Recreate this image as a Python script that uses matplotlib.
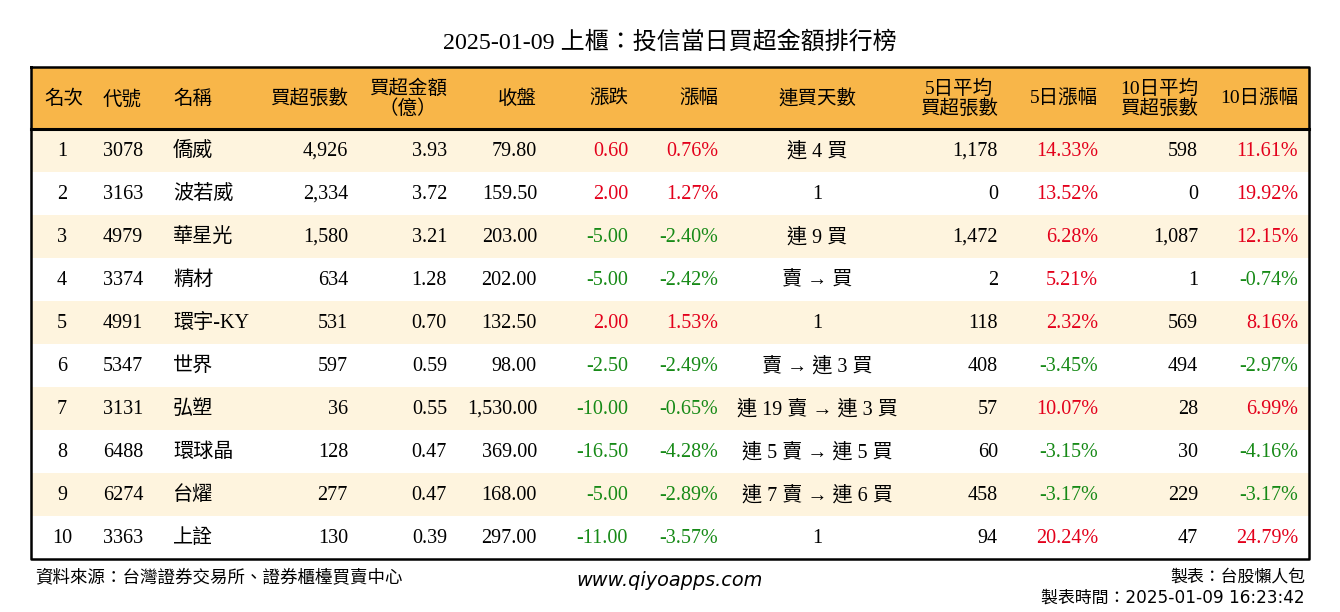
import matplotlib.pyplot as plt
import numpy as np

plt.rcParams['font.family'] = ['Liberation Serif', 'Noto Sans CJK TC', 'DejaVu Sans']

title = '2025-01-09 上櫃：投信當日買超金額排行榜'
headers = ['名次', '代號', '名稱', '買超張數', '買超金額\n（億）', '收盤', '漲跌', '漲幅',
           '連買天數', '5日平均\n買超張數', '5日漲幅', '10日平均\n買超張數', '10日漲幅']

ranks = [1, 2, 3, 4, 5, 6, 7, 8, 9, 10]
codes = ['3078', '3163', '4979', '3374', '4991', '5347', '3131', '6488', '6274', '3363']
names = ['僑威', '波若威', '華星光', '精材', '環宇-KY', '世界', '弘塑', '環球晶', '台燿', '上詮']
net_lots = [4926, 2334, 1580, 634, 531, 597, 36, 128, 277, 130]
net_amt = [3.93, 3.72, 3.21, 1.28, 0.70, 0.59, 0.55, 0.47, 0.47, 0.39]
close = [79.80, 159.50, 203.00, 202.00, 132.50, 98.00, 1530.00, 369.00, 168.00, 297.00]
change = [0.60, 2.00, -5.00, -5.00, 2.00, -2.50, -10.00, -16.50, -5.00, -11.00]
pct = [0.76, 1.27, -2.40, -2.42, 1.53, -2.49, -0.65, -4.28, -2.89, -3.57]
streak = ['連 4 買', '1', '連 9 買', '賣 → 買', '1', '賣 → 連 3 買', '連 19 賣 → 連 3 買',
          '連 5 賣 → 連 5 買', '連 7 賣 → 連 6 買', '1']
avg5 = [1178, 0, 1472, 2, 118, 408, 57, 60, 458, 94]
pct5 = [14.33, 13.52, 6.28, 5.21, 2.32, -3.45, 10.07, -3.15, -3.17, 20.24]
avg10 = [598, 0, 1087, 1, 569, 494, 28, 30, 229, 47]
pct10 = [11.61, 19.92, 12.15, -0.74, 8.16, -2.97, 6.99, -4.16, -3.17, 24.79]

RED = '#e3001b'
GREEN = '#178a17'
ORANGE = '#f8b649'
CREAM = '#fef4de'


def sign_color(v):
    return RED if v > 0 else (GREEN if v < 0 else 'black')


fig = plt.figure(figsize=(13.4, 6.12), dpi=100)
ax = fig.add_axes([0, 0, 1, 1])
ax.set_xlim(0, 1340)
ax.set_ylim(612, 0)
ax.axis('off')

left, right = 31, 1309
top, head_bot = 67, 129
row_h = 43
n = len(ranks)
bottom = head_bot + n * row_h

# header and row backgrounds
ax.barh((top + head_bot) / 2, right - left, left=left, height=head_bot - top, color=ORANGE, zorder=0)
yc = head_bot + row_h * (np.arange(n) + 0.5)
ax.barh(yc, right - left, left=left, height=row_h,
        color=[CREAM if i % 2 == 0 else 'white' for i in range(n)], zorder=0)

ax.plot([left, right, right, left, left], [top, top, bottom, bottom, top], color='black', lw=1.8, zorder=3)
ax.plot([left, right], [head_bot, head_bot], color='black', lw=2.2, zorder=3)

# column x position and alignment
cols = [(62, 'center'), (103, 'left'), (173, 'left'), (348, 'right'), (447, 'right'),
        (537, 'right'), (628, 'right'), (718, 'right'), (817, 'center'), (998, 'right'),
        (1098, 'right'), (1198, 'right'), (1298, 'right')]

hy = (top + head_bot) / 2 + 1
for (x, ha), h in zip(cols, headers):
    if h == '名次':
        x = 64
    ax.text(x, hy, h, ha=ha, va='center', fontsize=14, multialignment='center', linespacing=1.1)

fs = 14.5
for i in range(n):
    y = yc[i] + 1
    vals = [
        (str(ranks[i]), 'black'),
        (codes[i], 'black'),
        (names[i], 'black'),
        (f'{net_lots[i]:,}', 'black'),
        (f'{net_amt[i]:.2f}', 'black'),
        (f'{close[i]:,.2f}', 'black'),
        (f'{change[i]:.2f}', sign_color(change[i])),
        (f'{pct[i]:.2f}%', sign_color(pct[i])),
        (streak[i], 'black'),
        (f'{avg5[i]:,}', 'black'),
        (f'{pct5[i]:.2f}%', sign_color(pct5[i])),
        (f'{avg10[i]:,}', 'black'),
        (f'{pct10[i]:.2f}%', sign_color(pct10[i])),
    ]
    for (x, ha), (s, c) in zip(cols, vals):
        ax.text(x, y, s, ha=ha, va='center', fontsize=fs, color=c)

ax.text(670, 42, title, ha='center', va='center', fontsize=17.3)

foot = ['DejaVu Sans', 'Noto Sans CJK TC']
ax.text(35, 577, '資料來源：台灣證券交易所、證券櫃檯買賣中心', ha='left', va='center', fontsize=12.6,
        family=['Noto Sans CJK TC'])
ax.text(670, 580, 'www.qiyoapps.com', ha='center', va='center', fontsize=13.9, style='italic',
        family=['DejaVu Sans'])
ax.text(1305, 577, '製表：台股懶人包', ha='right', va='center', fontsize=12.2, family=foot)
ax.text(1305, 598, '製表時間：2025-01-09 16:23:42', ha='right', va='center', fontsize=12.2, family=foot)

fig.savefig('out.png', dpi=100)
